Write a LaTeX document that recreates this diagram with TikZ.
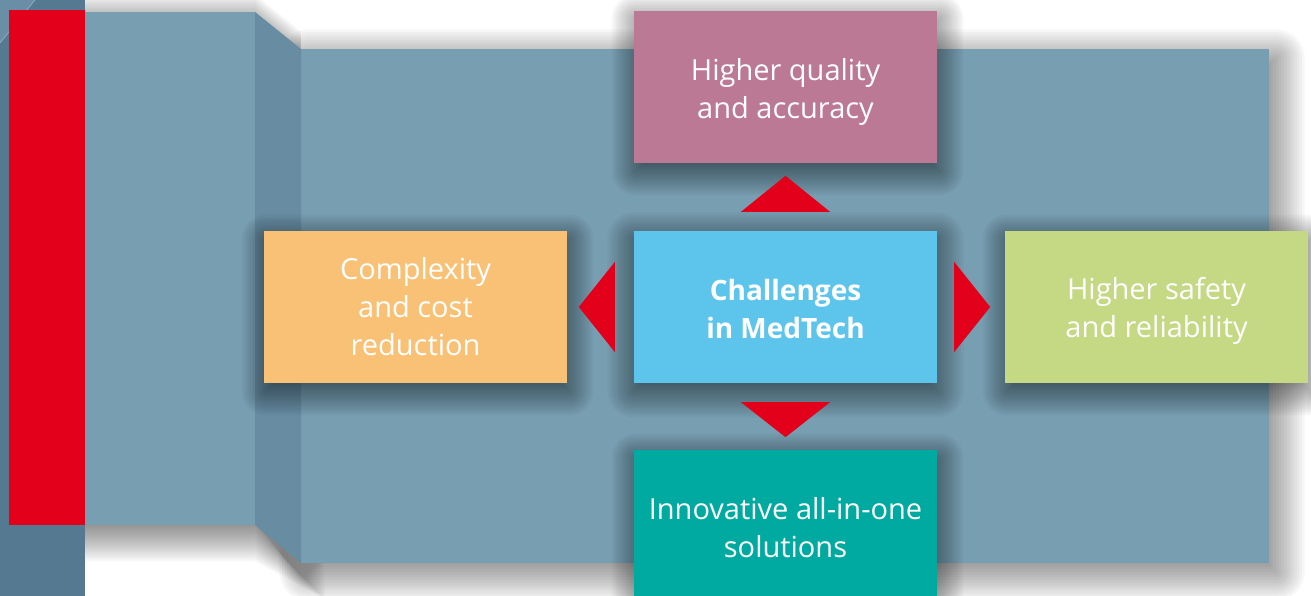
\documentclass[tikz,border=0pt]{standalone}
\usepackage{fontspec}
\setmainfont{Open Sans}
\usetikzlibrary{calc}
\definecolor{stripc}{HTML}{557991}
\definecolor{cornerc}{HTML}{6A8EA6}
\definecolor{redc}{HTML}{E2001A}
\definecolor{panelc}{HTML}{789EB2}
\definecolor{bevelc}{HTML}{688DA3}
\definecolor{pinkc}{HTML}{BB7996}
\definecolor{bluec}{HTML}{5DC5EC}
\definecolor{orangec}{HTML}{F9C175}
\definecolor{greenc}{HTML}{C5D883}
\definecolor{tealc}{HTML}{00AAA1}
\pgfdeclarelayer{panels}
\pgfdeclarelayer{shadows}
\pgfsetlayers{panels,shadows,main}
\tikzset{
  box/.style={rectangle, minimum width=303pt, minimum height=152pt, inner sep=0pt},
  txt/.style={text=white, align=center, font=\fontsize{29}{38}\selectfont},
  tri/.style={fill=redc}
}
% soft shadow around a node: #1 name, #2 dx, #3 dy (down), #4 step, #5 opacity per step
\newcommand\nodeshadow[5]{%
  \foreach \k in {-8,...,11}{%
    \pgfmathsetmacro\e{\k*#4}%
    \pgfmathsetmacro\r{max(\e,0)}%
    \fill[black, opacity=#5, rounded corners=\r pt] ($(#1.north west)+(#2-\e,#3-\e)$) rectangle ($(#1.south east)+(#2+\e,#3+\e)$);
  }}
% soft shadow of a rectangle: x1,y1,x2,y2,dx,dy,step,opacity
\newcommand\rectshadow[8]{%
  \foreach \k in {-8,...,11}{%
    \pgfmathsetmacro\e{\k*#7}%
    \pgfmathsetmacro\r{max(\e,0)}%
    \fill[black, opacity=#8, rounded corners=\r pt] (#1+#5-\e,#2+#6-\e) rectangle (#3+#5+\e,#4+#6+\e);
  }}
\begin{document}
\begin{tikzpicture}[x=1pt,y=-1pt]
\useasboundingbox (0,0) rectangle (1311,596);
\clip (0,0) rectangle (1311,596);
\begin{pgfonlayer}{panels}
% shadow below left panel and bevel
\foreach \k in {-8,...,11}{%
  \pgfmathsetmacro\e{\k*2.2}%
  \fill[black, opacity=0.03] (85,12+\e) -- (255,12+\e) -- (301,49+\e) -- (301+\e,563+12+\e) -- (255,525+12+\e) -- (85,525+12+\e) -- cycle;
}
% main panel
\rectshadow{301}{49}{1269}{563}{7}{9}{2.6}{0.032}
\fill[panelc] (301,49) rectangle (1269,563);
% bevel
\fill[bevelc] (255,12) -- (301,49) -- (301,563) -- (255,525) -- cycle;
% left light panel
\fill[panelc] (85,12) rectangle (255,525);
% left dark strip
\fill[stripc] (0,0) rectangle (85,596);
\fill[cornerc] (0,0) -- (35,0) -- (0,43) -- cycle;
\draw[white, opacity=0.25, line width=1pt] (35,0) -- (0,43);
% red bar
\fill[redc] (9,10) rectangle (85,525);
\end{pgfonlayer}
% boxes
\node[box, fill=pinkc, label={[txt, yshift=-5pt]center:Higher quality\\and accuracy}] (top) at (785.5,87) {};
\node[box, fill=tealc, label={[txt, yshift=-2pt]center:Innovative all-in-one\\solutions}] (bot) at (785.5,526) {};
\node[box, fill=orangec, label={[txt]center:Complexity\\and cost\\reduction}] (lft) at (415.5,307) {};
\node[box, fill=greenc, label={[txt, yshift=-4pt]center:Higher safety\\and reliability}] (rgt) at (1156.5,307) {};
\node[box, fill=bluec, label={[txt, yshift=-2pt, font=\bfseries\fontsize{28}{38}\selectfont]center:Challenges\\in MedTech}] (c) at (785.5,307) {};
\begin{pgfonlayer}{shadows}
\nodeshadow{top}{2}{8}{2.2}{0.03}
\nodeshadow{bot}{2}{8}{2.2}{0.03}
\nodeshadow{lft}{2}{8}{2.2}{0.03}
\nodeshadow{rgt}{2}{8}{2.2}{0.03}
\nodeshadow{c}{0}{8}{2.4}{0.032}
\end{pgfonlayer}
% triangles
\fill[tri] ($(c.north)+(-44.5,-19)$) -- ($(c.north)+(44.5,-19)$) -- ($(c.north)+(0,-55)$) -- cycle;
\fill[tri] ($(c.south)+(-44.5,19)$) -- ($(c.south)+(44.5,19)$) -- ($(c.south)+(0,54)$) -- cycle;
\fill[tri] ($(c.west)+(-19,-45)$) -- ($(c.west)+(-19,45)$) -- ($(c.west)+(-55,0)$) -- cycle;
\fill[tri] ($(c.east)+(17,-45)$) -- ($(c.east)+(17,45)$) -- ($(c.east)+(53,0)$) -- cycle;
\end{tikzpicture}
\end{document}
